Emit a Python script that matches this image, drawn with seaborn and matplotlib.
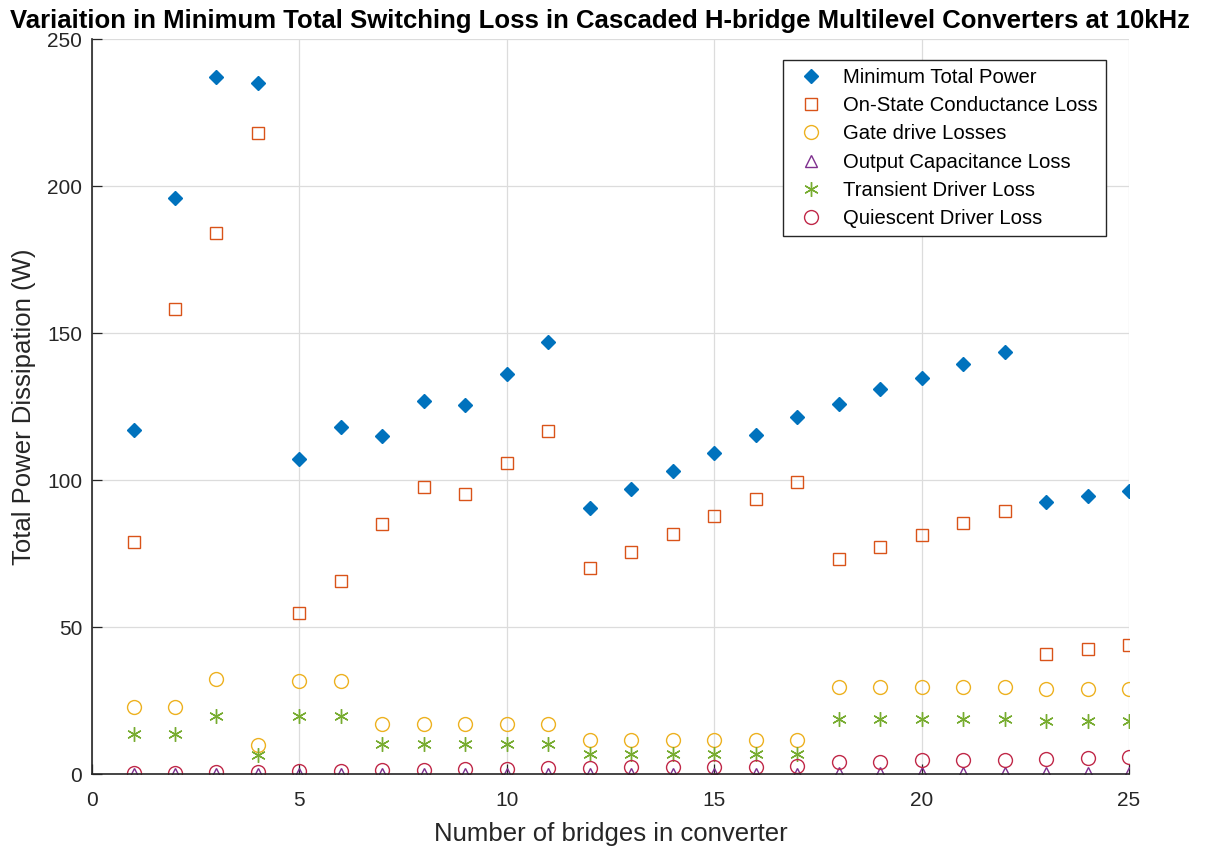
import warnings
import numpy as np
import pandas as pd
import matplotlib
matplotlib.use("Agg")
import matplotlib.pyplot as plt
import seaborn as sns

warnings.filterwarnings("ignore")

# Number of H-bridges in the cascaded converter
bridges = list(range(1, 26))

# Loss components (W) for each bridge count
min_total_power = [117, 196, 237, 235, 107, 118, 115, 127, 125.5, 136, 147,
                   90.6, 97, 103, 109.1, 115.2, 121.5, 126, 130.8, 134.8,
                   139.5, 143.5, 92.4, 94.6, 96.3]
on_state_loss = [79, 158, 184, 218, 54.6, 65.5, 85, 97.6, 95.2, 105.8, 116.8,
                 70, 75.6, 81.8, 87.7, 93.5, 99.3, 73.2, 77.2, 81.2, 85.4,
                 89.5, 40.8, 42.5, 44.0]
gate_drive_loss = [22.8, 22.8, 32.2, 10.0, 31.6, 31.6, 16.9, 16.9, 16.9, 16.9,
                   16.9, 11.4, 11.4, 11.4, 11.4, 11.4, 11.4, 29.7, 29.7, 29.7,
                   29.7, 29.7, 28.8, 28.8, 28.8]
output_cap_loss = [0.1, 0.1, 0.1, 0.1, 0.15, 0.15, 0.15, 0.15, 0.15, 0.15,
                   0.15, 0.15, 0.15, 0.15, 0.15, 0.15, 0.15, 0.2, 0.2, 0.2,
                   0.2, 0.2, 0.2, 0.2, 0.2]
transient_loss = [13.5, 13.5, 19.6, 6.5, 19.7, 19.7, 10.3, 10.3, 10.3, 10.3,
                  10.3, 6.8, 6.8, 6.8, 6.8, 6.8, 6.8, 18.8, 18.8, 18.8, 18.8,
                  18.8, 18.0, 18.0, 18.0]
quiescent_loss = [0.2, 0.5, 0.8, 0.8, 1.1, 1.1, 1.5, 1.5, 1.7, 1.7, 2.0, 2.0,
                  2.3, 2.3, 2.5, 2.5, 2.8, 4.0, 4.2, 4.6, 4.8, 4.9, 5.1, 5.4,
                  5.9]

series_labels = ["Minimum Total Power", "On-State Conductance Loss",
                 "Gate drive Losses", "Output Capacitance Loss",
                 "Transient Driver Loss", "Quiescent Driver Loss"]

sns.set_theme(style="white")
plt.rcParams["font.family"] = ["Liberation Sans", "DejaVu Sans"]

fig = plt.figure(figsize=(12.11, 8.5), dpi=100)
ax = fig.add_axes([0.0760, 0.0894, 0.8563, 0.8647])

axis_color = "#262626"
styles = [
    # (values, colour, marker, size, filled)
    (min_total_power, "#0072BD", "D", 7.5, True),
    (on_state_loss, "#D95319", "s", 8.0, False),
    (gate_drive_loss, "#EDB120", "o", 10.0, False),
    (output_cap_loss, "#7E2F8E", "^", 9.0, False),
    (transient_loss, "#77AC30", (6, 2, 0), 10.5, False),
    (quiescent_loss, "#C02848", "o", 10.0, False),
]

for (vals, col, mk, ms, filled), lab in zip(styles, series_labels):
    df = pd.DataFrame({"bridges": bridges, "loss": vals})
    sns.lineplot(data=df, x="bridges", y="loss", ax=ax, label=lab,
                 color=col, marker=mk, markersize=ms, linestyle="none",
                 markerfacecolor=col if filled else "none",
                 markeredgecolor=col, markeredgewidth=1.0,
                 errorbar=None)

ax.set_xlim(0, 25)
ax.set_ylim(0, 250)
ax.set_xticks(np.arange(0, 26, 5))
ax.set_yticks(np.arange(0, 251, 50))
ax.grid(True, color="#DCDCDC", linewidth=0.9)
ax.set_axisbelow(True)
for side in ("top", "right"):
    ax.spines[side].set_visible(False)
for side in ("left", "bottom"):
    ax.spines[side].set_visible(True)
    ax.spines[side].set_color(axis_color)
    ax.spines[side].set_linewidth(1.2)
ax.tick_params(direction="in", length=7, width=0.9, color=axis_color,
               labelcolor=axis_color, labelsize=15, top=False, right=False,
               left=True, bottom=True)
ax.tick_params(axis="x", pad=12)
ax.tick_params(axis="y", pad=7)

ax.set_xlabel("Number of bridges in converter", fontsize=18.5,
              color=axis_color, labelpad=9)
ax.set_ylabel("Total Power Dissipation (W)", fontsize=18.5,
              color=axis_color, labelpad=8)
ax.set_title("Variaition in Minimum Total Switching Loss in Cascaded "
             "H-bridge Multilevel Converters at 10kHz",
             fontsize=18.5, fontweight="bold", color="black", pad=8,
             x=0.49)

leg = ax.legend(loc="upper right", bbox_to_anchor=(0.978, 0.972),
                fontsize=14.6, frameon=True, fancybox=False, framealpha=1,
                edgecolor=axis_color, handlelength=2.0, handletextpad=0.6,
                labelspacing=0.46, borderpad=0.4, borderaxespad=0)
leg.get_frame().set_linewidth(1.0)
for t in leg.get_texts():
    t.set_color("black")

fig.savefig("out.png", dpi=100)
